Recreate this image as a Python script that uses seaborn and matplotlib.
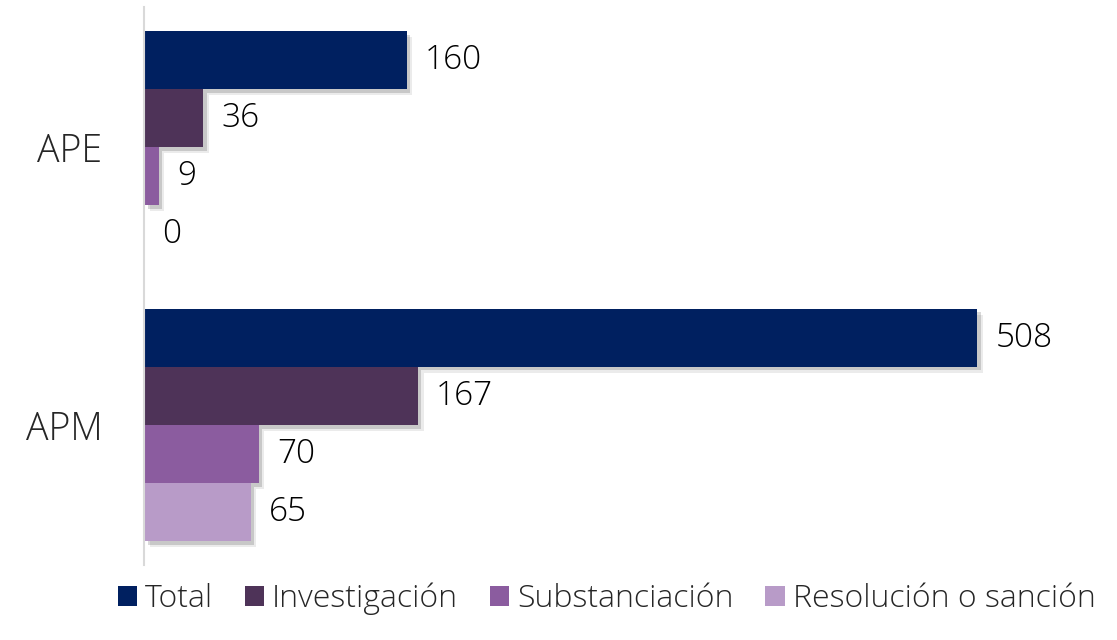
import matplotlib
matplotlib.use("Agg")
import matplotlib.pyplot as plt
import matplotlib.patheffects as pe
from matplotlib.patches import Patch
import seaborn as sns
import pandas as pd

# data
categories = ["APE", "APM"]
series = ["Total", "Investigación", "Substanciación", "Resolución o sanción"]
ape_values = [160, 36, 9, 0]
apm_values = [508, 167, 70, 65]
colors = ["#002060", "#4e3358", "#8b5c9f", "#b89bc8"]

rows = []
for cat, vals in zip(categories, [ape_values, apm_values]):
    for s, v in zip(series, vals):
        rows.append({"cat": cat, "serie": s, "valor": v})
df = pd.DataFrame(rows)

sns.set_style("white")
plt.rcParams["font.family"] = ["Open Sans", "DejaVu Sans"]

fig = plt.figure(figsize=(11.17, 6.4), dpi=100)
ax = fig.add_axes([0.129, 0.117, 0.856, 0.872])

sns.barplot(data=df, y="cat", x="valor", hue="serie", order=categories,
            hue_order=series, palette=colors, orient="h", width=0.835,
            saturation=1, linewidth=0, legend=False, ax=ax)

# soft drop shadow like the original
shadow = [pe.SimplePatchShadow(offset=(4, -4), shadow_rgbFace="black", alpha=0.08),
          pe.SimplePatchShadow(offset=(2.5, -2.5), shadow_rgbFace="black", alpha=0.15),
          pe.Normal()]
for patch in ax.patches:
    patch.set_path_effects(shadow)

for cont in ax.containers:
    ax.bar_label(cont, fmt="%d", padding=13, fontsize=24, fontweight="light", color="black")

ax.set_xlim(0, 583)
ax.set_ylim(1.504, -0.504)
ax.set_xlabel("")
ax.set_ylabel("")
ax.set_xticks([])
ax.tick_params(axis="y", length=0, pad=30, labelsize=27)
for lab in ax.get_yticklabels():
    lab.set_fontweight("light")

for side in ["top", "right", "bottom"]:
    ax.spines[side].set_visible(False)
ax.spines["left"].set_color("#d9d9d9")
ax.spines["left"].set_linewidth(1.5)

handles = [Patch(facecolor=c, edgecolor="none") for c in colors]
fig.legend(handles, series, loc="center", bbox_to_anchor=(0.543, 0.064), ncol=4,
           frameon=False, handlelength=0.6, handleheight=0.6,
           handletextpad=0.25, columnspacing=1.0, prop={"size": 23, "weight": "light"})

fig.savefig("out.png", dpi=100)
